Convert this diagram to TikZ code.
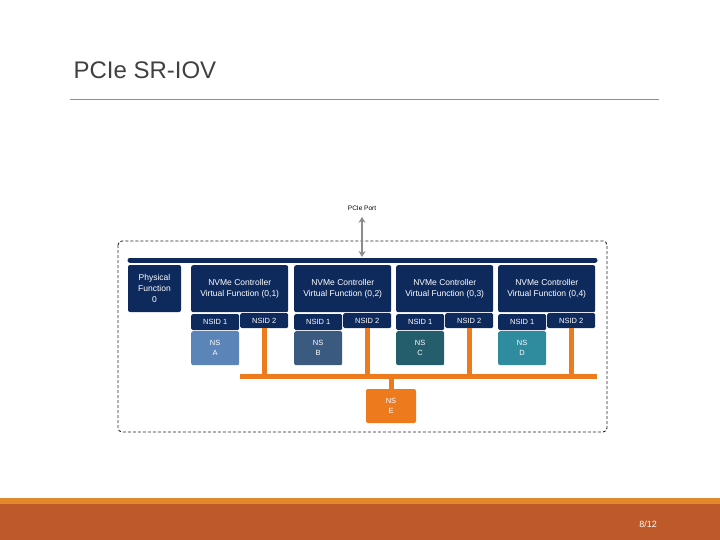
\documentclass[tikz,border=0pt]{standalone}
\usepackage{fontspec}
\setmainfont{Liberation Sans}
\usetikzlibrary{arrows.meta}
\definecolor{navy}{HTML}{0E2A5C}
\definecolor{nsorange}{HTML}{EE7A1E}
\definecolor{nsa}{HTML}{5B84B8}
\definecolor{nsb}{HTML}{3B5A80}
\definecolor{nsc}{HTML}{245E6C}
\definecolor{nsd}{HTML}{2E8C9E}
\definecolor{footbrown}{HTML}{BE5A2A}
\definecolor{footorange}{HTML}{E3892B}
\begin{document}
\begin{tikzpicture}[x=1pt,y=-1pt,
        % stili
        box/.style={fill=navy, rounded corners=2pt, text=white, align=center, font=\fontsize{8.5}{11}\selectfont, inner sep=0pt},
        nsid/.style={fill=navy, rounded corners=1.5pt, text=white, font=\fontsize{7.5}{8}\selectfont, inner sep=0pt},
        ns/.style={rounded corners=2pt, text=white, align=center, font=\fontsize{7.5}{10}\selectfont, inner sep=0pt},
        bus/.style={line width=5pt, nsorange}
    ]
    \useasboundingbox (0,0) rectangle (720,540);

    % titolo
    \node[anchor=west, font=\fontsize{24}{26}\selectfont, text=black!75] (title) at (70,70) {PCIe SR-IOV};
    \draw[black!45, thin] (70,99) -- (659,99);

    % contenitore tratteggiato
    \draw[dashed, black!85, line width=0.9pt, dash pattern=on 3pt off 2pt, rounded corners=4pt] (118,241) rectangle (607,432);
    \draw[navy, line width=5pt, line cap=round] (130,260) -- (595,260);

    % porta PCIe
    \node[font=\fontsize{6.5}{7}\selectfont] (port) at (362,208) {PCIe Port};
    \coordinate (portbus) at (362,257);
    \draw[black!45, line width=2pt, {Stealth[length=6pt,width=7pt]}-{Stealth[length=6pt,width=7pt]}] (port.south) ++(0,3) -- (portbus);

    % funzione fisica
    \node[box, minimum width=53pt, minimum height=47pt] (pf) at (154.5,288.5) {Physical\\Function\\0};

    % funzioni virtuali
    \foreach \i/\x/\c/\l in {1/191/nsa/A, 2/294/nsb/B, 3/396/nsc/C, 4/498/nsd/D} {
        \node[box, minimum width=97pt, minimum height=47pt, anchor=north west] (vf\i) at (\x,265) {NVMe Controller\\Virtual Function (0,\i)};
        \node[nsid, minimum width=48pt, minimum height=16pt, anchor=north west] (nsida\i) at (\x,314) {NSID 1};
        \node[nsid, minimum width=48pt, minimum height=15pt, anchor=north west] (nsidb\i) at (\x+49,313) {NSID 2};
        \node[ns, fill=\c, minimum width=48pt, minimum height=34pt, anchor=north west] (ns\i) at (\x,331) {NS\\\l};
        \coordinate (drop\i) at (\x+73,376);
        \draw[bus] (drop\i |- nsidb\i.south) -- (drop\i);
    }

    % bus condiviso
    \draw[bus] (240,376) -- (597,376);
    \node[ns, fill=nsorange, minimum width=50pt, minimum height=34pt] (nse) at (391,406) {NS\\E};
    \coordinate (ebus) at (391,376);
    \draw[bus] (ebus) -- (nse.north);

    % piè di pagina
    \fill[footorange] (0,498) rectangle (720,504);
    \fill[footbrown] (0,504) rectangle (720,540);
    \node[text=white, font=\fontsize{9}{10}\selectfont] (page) at (648,524) {8/12};
\end{tikzpicture}
\end{document}
